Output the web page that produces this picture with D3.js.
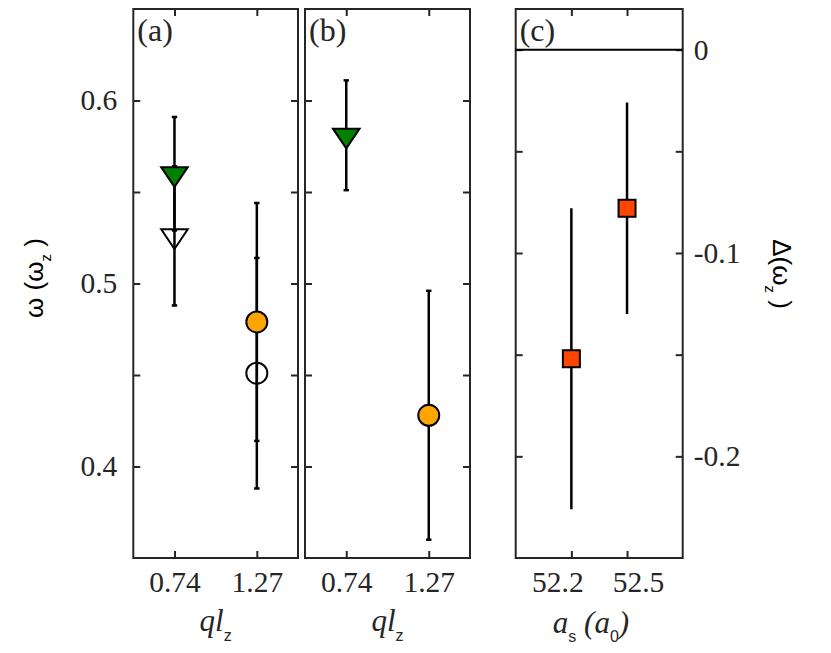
<!DOCTYPE html>
<html lang="en">
<head>
<meta charset="utf-8">
<title>Mode frequencies vs ql_z and a_s</title>
<script src="https://cdn.jsdelivr.net/npm/d3@7"></script>
<style>
  body { margin: 0; background: #fff; }
  .frame { fill: none; stroke: #262626; stroke-width: 2; }
  .tick line { stroke: #262626; stroke-width: 2; }
  .tick text { font-family: "Liberation Serif", serif; font-size: 29.5px; fill: #262626; }
  .err { stroke: #000; stroke-width: 2.5; }
  .mark { stroke: #000; stroke-width: 2; }
  .plabel { font-family: "Liberation Serif", serif; font-size: 32px; fill: #262626; }
  .serif { font-family: "Liberation Serif", serif; }
  .sans { font-family: "Liberation Sans", sans-serif; }
</style>
</head>
<body>
<script>
// x positions / labels for panels (a) and (b)
var qlIndex = [1, 2];
var qlLabels = ["0.74", "1.27"];

// omega axis (a), (b)
var omegaTicks = [0.4, 0.45, 0.5, 0.55, 0.6];
var omegaTickLabels = ["0.4", "", "0.5", "", "0.6"];

// panel (a): filled and open markers
var aFilled = [0.560, 0.479];
var aFilledErr = [0.031, 0.065];
var aOpen = [0.526, 0.451];
var aOpenErr = [0.038, 0.063];

// panel (b)
var bFilled = [0.581, 0.428];
var bFilledErr = [0.030, 0.068];

// panel (c)
var scatLength = [52.2, 52.5];
var scatLabels = ["52.2", "52.5"];
var deltaOmega = [-0.152, -0.078];
var deltaErr = [0.074, 0.052];
var deltaTicks = [-0.2, -0.15, -0.1, -0.05, 0];
var deltaTickLabels = ["-0.2", "", "-0.1", "", "0"];

// marker style per ql point
var shapes = ["triangle", "circle"];
var fills = ["#008000", "#ffa500"];
var squareFill = "#ff4500";

var W = 831, H = 653;
var top_ = 9, bottom = 558;
// the a_s tick labels sit off their ticks in the original figure
var cLabelShift = [-14, 11];

var svg = d3.select("body").append("svg")
  .attr("width", W).attr("height", H);

var yOmega = d3.scaleLinear().domain([0.35, 0.65]).range([bottom, top_]);
var yDelta = d3.scaleLinear().domain([-0.25, 0.02]).range([bottom, top_]);
var xA = d3.scaleLinear().domain([0.5, 2.5]).range([133.3, 298]);
var xB = d3.scaleLinear().domain([0.5, 2.5]).range([305, 470]);
var xC = d3.scaleLinear().domain([51.9, 52.8]).range([515.7, 682.7]);

function fmt(vals, labels) {
  return function(d) { return labels[vals.indexOf(d)]; };
}

function drawFrame(x, y, xticks, xlabels, yticks, ylabels, side, name) {
  var x0 = x.range()[0], x1 = x.range()[1];
  var g = svg.append("g");

  var left = d3.axisLeft(y).tickValues(yticks).tickSize(-7).tickPadding(16)
    .tickFormat(side === "left" ? fmt(yticks, ylabels) : "");
  g.append("g").attr("transform", "translate(" + x0 + ",0)").call(left)
    .call(function(s) { s.select(".domain").remove(); });

  var right = d3.axisRight(y).tickValues(yticks).tickSize(-7).tickPadding(11)
    .tickFormat(side === "right" ? fmt(yticks, ylabels) : "");
  g.append("g").attr("transform", "translate(" + x1 + ",0)").call(right)
    .call(function(s) { s.select(".domain").remove(); });

  var topAx = d3.axisTop(x).tickValues(xticks).tickSize(-7).tickFormat("");
  g.append("g").attr("transform", "translate(0," + top_ + ")").call(topAx)
    .call(function(s) { s.select(".domain").remove(); });

  var bot = d3.axisBottom(x).tickValues(xticks).tickSize(-7).tickPadding(13)
    .tickFormat(fmt(xticks, xlabels));
  var bg = g.append("g").attr("transform", "translate(0," + bottom + ")").call(bot)
    .call(function(s) { s.select(".domain").remove(); });

  g.append("rect").attr("class", "frame")
    .attr("x", x0).attr("y", top_)
    .attr("width", x1 - x0).attr("height", bottom - top_);

  g.append("text").attr("class", "plabel")
    .attr("x", x0 + 4).attr("y", 41).text(name);
  return bg;
}

function errBars(xs, ys, es, x, y, cap) {
  var g = svg.append("g");
  xs.forEach(function(d, i) {
    var cx = x(d), ya = y(ys[i] + es[i]), yb = y(ys[i] - es[i]);
    g.append("line").attr("class", "err")
      .attr("x1", cx).attr("x2", cx).attr("y1", ya).attr("y2", yb);
    if (cap) {
      [ya, yb].forEach(function(cy) {
        g.append("line").attr("class", "err")
          .attr("x1", cx - 2.7).attr("x2", cx + 2.7).attr("y1", cy).attr("y2", cy);
      });
    }
  });
}

function triangle(cx, cy) {
  var w = 26.5, h = 19.7;
  return "M" + (cx - w / 2) + "," + (cy - h / 3) +
    "L" + (cx + w / 2) + "," + (cy - h / 3) +
    "L" + cx + "," + (cy + 2 * h / 3) + "Z";
}

function markers(xs, ys, x, y, filled) {
  var g = svg.append("g");
  xs.forEach(function(d, i) {
    var cx = x(d), cy = y(ys[i]);
    var fill = filled ? fills[i] : "none";
    if (shapes[i] === "triangle") {
      g.append("path").attr("class", "mark").attr("d", triangle(cx, cy))
        .attr("fill", fill).attr("stroke-linejoin", "miter");
    } else {
      g.append("circle").attr("class", "mark")
        .attr("cx", cx).attr("cy", cy).attr("r", 10.5).attr("fill", fill);
    }
  });
}

// panel (a)
drawFrame(xA, yOmega, qlIndex, qlLabels, omegaTicks, omegaTickLabels, "left", "(a)");
errBars(qlIndex, aOpen, aOpenErr, xA, yOmega, true);
errBars(qlIndex, aFilled, aFilledErr, xA, yOmega, true);
markers(qlIndex, aOpen, xA, yOmega, false);
markers(qlIndex, aFilled, xA, yOmega, true);

// panel (b)
drawFrame(xB, yOmega, qlIndex, qlLabels, omegaTicks, omegaTickLabels, "none", "(b)");
errBars(qlIndex, bFilled, bFilledErr, xB, yOmega, true);
markers(qlIndex, bFilled, xB, yOmega, true);

// panel (c)
var cBottom = drawFrame(xC, yDelta, scatLength, scatLabels, deltaTicks, deltaTickLabels, "right", "(c)");
cBottom.selectAll(".tick text").attr("dx", function(d, i) { return cLabelShift[i]; });
svg.append("line")
  .attr("x1", xC.range()[0]).attr("x2", xC.range()[1])
  .attr("y1", yDelta(0)).attr("y2", yDelta(0))
  .attr("stroke", "#000").attr("stroke-width", 2);
errBars(scatLength, deltaOmega, deltaErr, xC, yDelta, false);
svg.append("g").selectAll("rect")
  .data(scatLength)
  .enter().append("rect").attr("class", "mark")
  .attr("x", function(d) { return xC(d) - 8.5; })
  .attr("y", function(d, i) { return yDelta(deltaOmega[i]) - 8.5; })
  .attr("width", 17).attr("height", 17)
  .attr("fill", squareFill).attr("stroke-width", 2.5);

// axis titles
function qlTitle(cx) {
  var t = svg.append("text").attr("x", cx).attr("y", 631)
    .attr("text-anchor", "middle").attr("fill", "#262626");
  t.append("tspan").attr("class", "serif").attr("font-style", "italic")
    .attr("font-size", 31).text("ql");
  t.append("tspan").attr("class", "sans").attr("font-size", 16)
    .attr("dy", 10).text("z");
}
qlTitle((xA.range()[0] + xA.range()[1]) / 2);
qlTitle((xB.range()[0] + xB.range()[1]) / 2);

var at = svg.append("text").attr("x", 591).attr("y", 633)
  .attr("text-anchor", "middle").attr("fill", "#262626");
at.append("tspan").attr("class", "serif").attr("font-style", "italic")
  .attr("font-size", 31).text("a");
at.append("tspan").attr("class", "sans").attr("font-size", 16)
  .attr("dy", 9).text("s");
at.append("tspan").attr("class", "serif").attr("font-style", "italic")
  .attr("font-size", 31).attr("dy", -9).text(" (a");
at.append("tspan").attr("class", "sans").attr("font-size", 16)
  .attr("dy", 9).text("0");
at.append("tspan").attr("class", "serif").attr("font-style", "italic")
  .attr("font-size", 31).attr("dy", -9).text(")");

var yl = svg.append("text").attr("transform", "translate(43,278) rotate(-90)")
  .attr("text-anchor", "middle").attr("class", "sans").attr("fill", "#000");
yl.append("tspan").attr("font-size", 26).text("\u03c9 (\u03c9");
yl.append("tspan").attr("font-size", 15).attr("dy", 8).text("z");
yl.append("tspan").attr("font-size", 26).attr("dy", -8).text(" )");

var yr = svg.append("text").attr("transform", "translate(773,274) rotate(90)")
  .attr("text-anchor", "middle").attr("class", "sans").attr("fill", "#000");
yr.append("tspan").attr("font-size", 26).text("\u0394(\u03c9");
yr.append("tspan").attr("font-size", 15).attr("dy", 8).text("z");
yr.append("tspan").attr("font-size", 26).attr("dy", -8).text(" )");
</script>
</body>
</html>
